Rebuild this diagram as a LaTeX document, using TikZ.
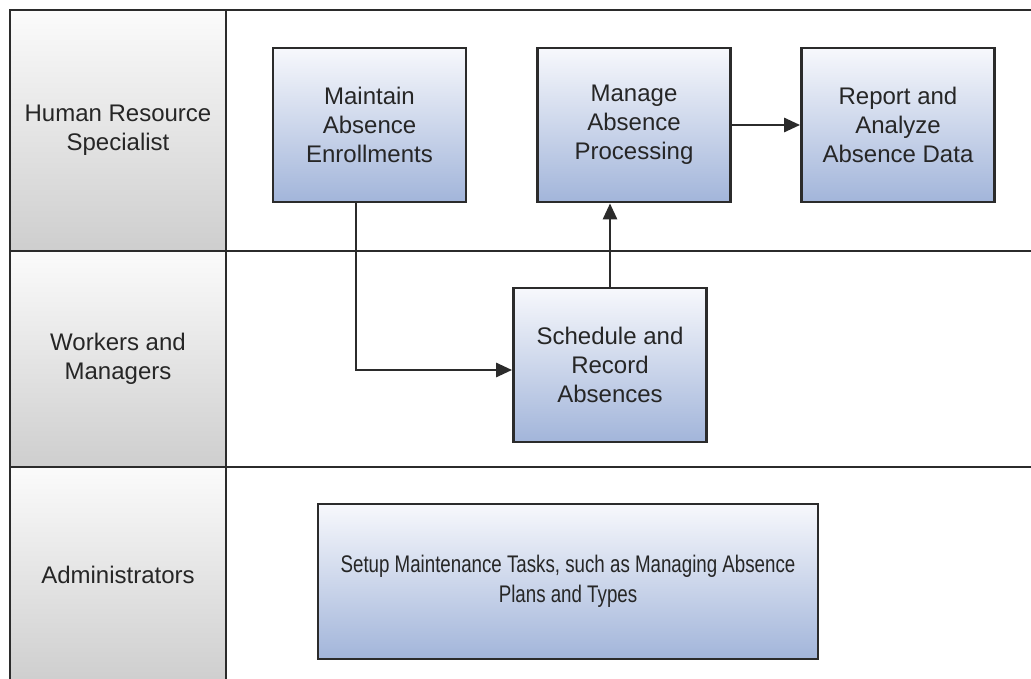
\documentclass[tikz,border=0pt]{standalone}
\usepackage{fontspec}
\setmainfont{Liberation Sans}
\newfontfamily\narrowsans[FakeStretch=0.78]{Liberation Sans}
\usetikzlibrary{arrows.meta}
\definecolor{edgegray}{HTML}{2B2B2B}
\definecolor{textgray}{HTML}{262626}
\definecolor{taskTop}{HTML}{F7F8FC}
\definecolor{taskBottom}{HTML}{A2B5DA}
\definecolor{laneTop}{HTML}{FBFBFB}
\definecolor{laneBottom}{HTML}{CECECE}
\tikzstyle{lanecell}=[draw=edgegray, line width=2.6pt, top color=laneTop, bottom color=laneBottom, text=textgray, align=center, minimum width=216pt, inner sep=0pt, font=\fontsize{24}{29}\selectfont]
\tikzstyle{task}=[draw=edgegray, line width=2.8pt, top color=taskTop, bottom color=taskBottom, text=textgray, align=center, minimum width=193pt, minimum height=154pt, inner sep=0pt, font=\fontsize{24}{29}\selectfont]
\tikzstyle{flow}=[draw=edgegray, line width=2.8pt, -{Triangle[length=16pt,width=14pt]}]
\begin{document}
\begin{tikzpicture}[x=1pt, y=-1pt]
    \clip (0,0) rectangle (1031,679);
    \fill[white] (0,0) rectangle (1031,679);
% Lanes
    \draw[edgegray, line width=2.6pt] (10,10) -- (1040,10);
    \draw[edgegray, line width=2.6pt] (10,251) -- (1040,251);
    \draw[edgegray, line width=2.6pt] (10,467) -- (1040,467);
    \node[lanecell, minimum height=241pt] (hrs) at (118,130.5) {Human Resource\\Specialist};
    \node[lanecell, minimum height=216pt] (wam) at (118,359) {Workers and\\Managers};
    \node[lanecell, minimum height=216pt] (adm) at (118,575) {Administrators};
% Tasks
    \node[task] (mae) at (369.5,125) {Maintain\\Absence\\Enrollments};
    \node[task] (map) at (634,125) {Manage\\Absence\\Processing};
    \node[task] (rad) at (898,125) {Report and\\Analyze\\Absence Data};
    \node[task] (sra) at (610,365) {Schedule and\\Record\\Absences};
    \node[task, minimum width=500pt, minimum height=155pt, font=\narrowsans\fontsize{24}{30}\selectfont] (smt) at (568,581.5) {Setup Maintenance Tasks, such as Managing Absence\\Plans and Types};
% Flows
    \draw[flow] ([xshift=-13.5pt]mae.south) |- ([yshift=-5pt]sra.west);
    \draw[flow] (sra.north) -- (sra.north |- map.south);
    \draw[flow] (map) -- (rad);
\end{tikzpicture}
\end{document}
